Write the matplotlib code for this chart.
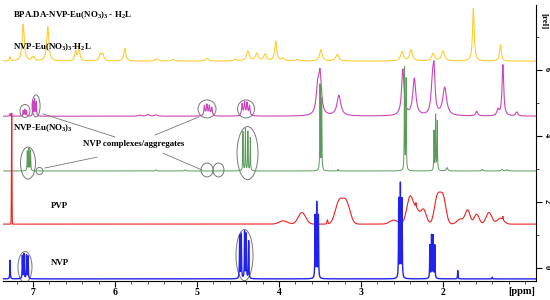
import numpy as np
import matplotlib.pyplot as plt
from matplotlib.patches import Ellipse

plt.rcParams['font.family'] = ['Liberation Serif', 'DejaVu Serif']
plt.rcParams['font.weight'] = 'bold'
plt.rcParams['mathtext.fontset'] = 'custom'
plt.rcParams['mathtext.rm'] = 'Liberation Serif:bold'
plt.rcParams['mathtext.default'] = 'rm'

# peak lists: (ppm, height above baseline, half width)
nvp_base = -0.33
nvp_ppm = [7.28, 7.13, 7.11, 7.08, 7.06, 4.48, 4.46, 4.42, 4.40, 4.37,
           3.56, 3.54, 3.52, 2.54, 2.52, 2.50, 2.16, 2.14, 2.12, 2.10, 1.82, 1.40]
nvp_h = [0.57, 0.70, 0.75, 0.72, 0.68, 1.30, 1.35, 1.42, 1.35, 1.15,
         1.9, 2.3, 1.9, 2.4, 2.85, 2.4, 1.0, 1.3, 1.3, 1.0, 0.25, 0.05]
nvp_w = [0.003] * 22

pvp_base = 1.33
pvp_ppm = [7.26, 3.95, 3.72, 3.41, 3.27, 3.18, 2.60, 2.40, 2.32, 2.24, 2.07, 2.00,
           1.79, 1.70, 1.59, 1.44, 1.30, 2.33, 1.27]
pvp_h = [3.37, 0.10, 0.35, 0.12, 0.65, 0.65, 0.12, 0.85, 0.35, 0.45, 0.80, 0.80,
         0.15, 0.42, 0.30, 0.35, 0.18, 0.12, 0.10]
pvp_w = [0.003, 0.05, 0.045, 0.006, 0.045, 0.045, 0.05, 0.04, 0.03, 0.035, 0.035, 0.035,
         0.04, 0.03, 0.03, 0.035, 0.04, 0.004, 0.004]

eu_base = 2.94
eu_ppm = [7.07, 7.05, 7.03, 4.44, 4.41, 4.38, 4.35, 3.50, 3.48, 3.28,
          2.47, 2.45, 2.11, 2.09, 2.07, 1.95, 1.52, 1.28, 1.22, 5.15, 5.5]
eu_h = [0.6, 0.67, 0.62, 1.2, 1.27, 1.2, 1.0, 2.6, 2.2, 0.05,
        3.1, 2.8, 1.2, 1.67, 1.5, 0.1, 0.05, 0.05, 0.04, 0.03, 0.03]
eu_w = [0.003] * 15 + [0.01] * 6

euh_base = 4.6
euh_ppm = [7.28, 7.12, 7.10, 7.08, 7.00, 6.98, 6.96, 4.91, 4.88, 4.85, 4.82,
           4.45, 4.42, 4.39, 4.36, 5.7, 5.6, 5.5, 3.53, 3.50, 3.27,
           2.49, 2.35, 2.13, 2.11, 1.98, 1.59, 1.33, 1.27, 1.10]
euh_h = [0.08, 0.17, 0.2, 0.16, 0.45, 0.5, 0.42, 0.3, 0.33, 0.3, 0.25,
         0.35, 0.4, 0.38, 0.3, 0.03, 0.05, 0.04, 0.75, 1.2, 0.62,
         1.4, 1.12, 0.9, 1.2, 0.85, 0.14, 0.18, 1.55, 0.12]
euh_w = [0.004] * 7 + [0.008] * 8 + [0.02] * 3 + [0.02, 0.02, 0.028,
         0.018, 0.022, 0.018, 0.015, 0.028, 0.015, 0.015, 0.012, 0.015]

bpa_base = 6.27
bpa_ppm = [7.28, 7.12, 7.01, 6.99, 6.82, 6.48, 6.44, 6.18, 6.15, 5.88, 5.49, 5.29,
           4.88, 4.54, 4.38, 4.27, 4.17, 4.04, 3.95, 3.78, 3.49, 3.29,
           2.50, 2.39, 2.12, 2.00, 1.63, 1.30]
bpa_h = [0.12, 1.12, 0.1, 0.1, 1.05, 0.28, 0.45, 0.2, 0.2, 0.38, 0.07, 0.05,
         0.08, 0.05, 0.3, 0.23, 0.2, 0.6, 0.08, 0.05, 0.35, 0.2,
         0.28, 0.34, 0.23, 0.3, 1.6, 0.5]
bpa_w = [0.006, 0.015, 0.01, 0.01, 0.015, 0.012, 0.012, 0.015, 0.015, 0.015, 0.02, 0.02,
         0.02, 0.02, 0.02, 0.02, 0.02, 0.015, 0.02, 0.02, 0.018, 0.022,
         0.02, 0.02, 0.02, 0.022, 0.012, 0.012]

ppm = np.linspace(7.37, 0.87, 9000)


def lorentz(pos, h, w):
    y = np.zeros_like(ppm)
    for p, a, g in zip(pos, h, w):
        y += a / (1 + ((ppm - p) / g) ** 2)
    return y


def gauss(pos, h, w):
    y = np.zeros_like(ppm)
    for p, a, s in zip(pos, h, w):
        y += a * np.exp(-0.5 * ((ppm - p) / s) ** 2)
    return y


fig = plt.figure(figsize=(5.5, 3), dpi=100)
ax = fig.add_axes([3 / 550, 19 / 300, 533 / 550, 276 / 300])

ax.plot(ppm, bpa_base + lorentz(bpa_ppm, bpa_h, bpa_w), color='#FFCC33', lw=0.8)
ax.plot(ppm, euh_base + lorentz(euh_ppm, euh_h, euh_w), color='#CC44BB', lw=0.8)
ax.plot(ppm, eu_base + lorentz(eu_ppm, eu_h, eu_w), color='#5C9A5C', lw=0.7)
ax.plot(ppm, pvp_base + gauss(pvp_ppm, pvp_h, pvp_w), color='#EE2222', lw=0.8)
ax.plot(ppm, nvp_base + lorentz(nvp_ppm, nvp_h, nvp_w), color='#2222EE', lw=1.0)

# circles around NVP complexes/aggregates
ells = [(7.098, 4.76, 0.122, 0.39), (6.963, 4.91, 0.098, 0.67),
        (4.878, 4.82, 0.22, 0.545), (4.402, 4.82, 0.207, 0.545),
        (7.061, 3.18, 0.183, 0.97), (6.921, 2.94, 0.085, 0.21),
        (4.878, 2.97, 0.146, 0.42), (4.738, 2.97, 0.134, 0.42),
        (4.384, 3.48, 0.256, 1.61),
        (7.098, 0.03, 0.171, 0.94), (4.421, 0.39, 0.207, 1.55)]
for cx, cy, w, h in ells:
    ax.add_patch(Ellipse((cx, cy), w, h, fill=False, ec='#777777', lw=0.7))

for (x0, y0), (x1, y1) in [((6.878, 4.67), (6.0, 3.97)), ((5.512, 4.03), (4.976, 4.58)),
                           ((6.854, 3.03), (6.22, 3.36)), ((5.415, 3.48), (4.939, 2.97))]:
    ax.plot([x0, x1], [y0, y1], color='#777777', lw=0.6)

fs = 6.4
ax.text(7.244, 7.67, 'BPA.DA-NVP-Eu(NO$_3$)$_3$ - H$_2$L', fontsize=fs, va='center')
ax.text(7.244, 6.70, 'NVP-Eu(NO$_3$)$_3$-H$_2$L', fontsize=fs, va='center')
ax.text(7.244, 4.24, 'NVP-Eu(NO$_3$)$_3$', fontsize=fs, va='center')
ax.text(6.39, 3.76, 'NVP complexes/aggregates', fontsize=fs, va='center')
ax.text(6.78, 1.88, 'PVP', fontsize=fs, va='center')
ax.text(6.78, 0.15, 'NVP', fontsize=fs, va='center')

ax.set_xlim(7.366, 0.866)
ax.set_ylim(-0.394, 7.97)
ax.set_xticks([7, 6, 5, 4, 3, 2])
ax.set_xticks(np.arange(1.0, 7.4, 0.2), minor=True)
ax.tick_params(axis='x', which='major', length=4, width=0.8, labelsize=7, pad=1)
ax.tick_params(axis='x', which='minor', length=2, width=0.5)

ax.yaxis.tick_right()
ax.set_yticks([0, 2, 4, 6])
ax.set_yticks([1, 3, 5, 7], minor=True)
ax.tick_params(axis='y', which='major', length=4, width=0.8, labelsize=6, pad=1, labelrotation=-90)
ax.tick_params(axis='y', which='minor', length=2, width=0.5)
for s in ['left', 'top']:
    ax.spines[s].set_visible(False)
ax.spines['right'].set_linewidth(0.8)
ax.spines['bottom'].set_linewidth(0.8)

fig.text(508 / 550, 1 - 292 / 300, '[ppm]', fontsize=7.5, va='center')
fig.text(543 / 550, 1 - 21 / 300, '[rel]', fontsize=6.5, va='center', ha='center', rotation=-90)

fig.savefig('out.png', dpi=100)
